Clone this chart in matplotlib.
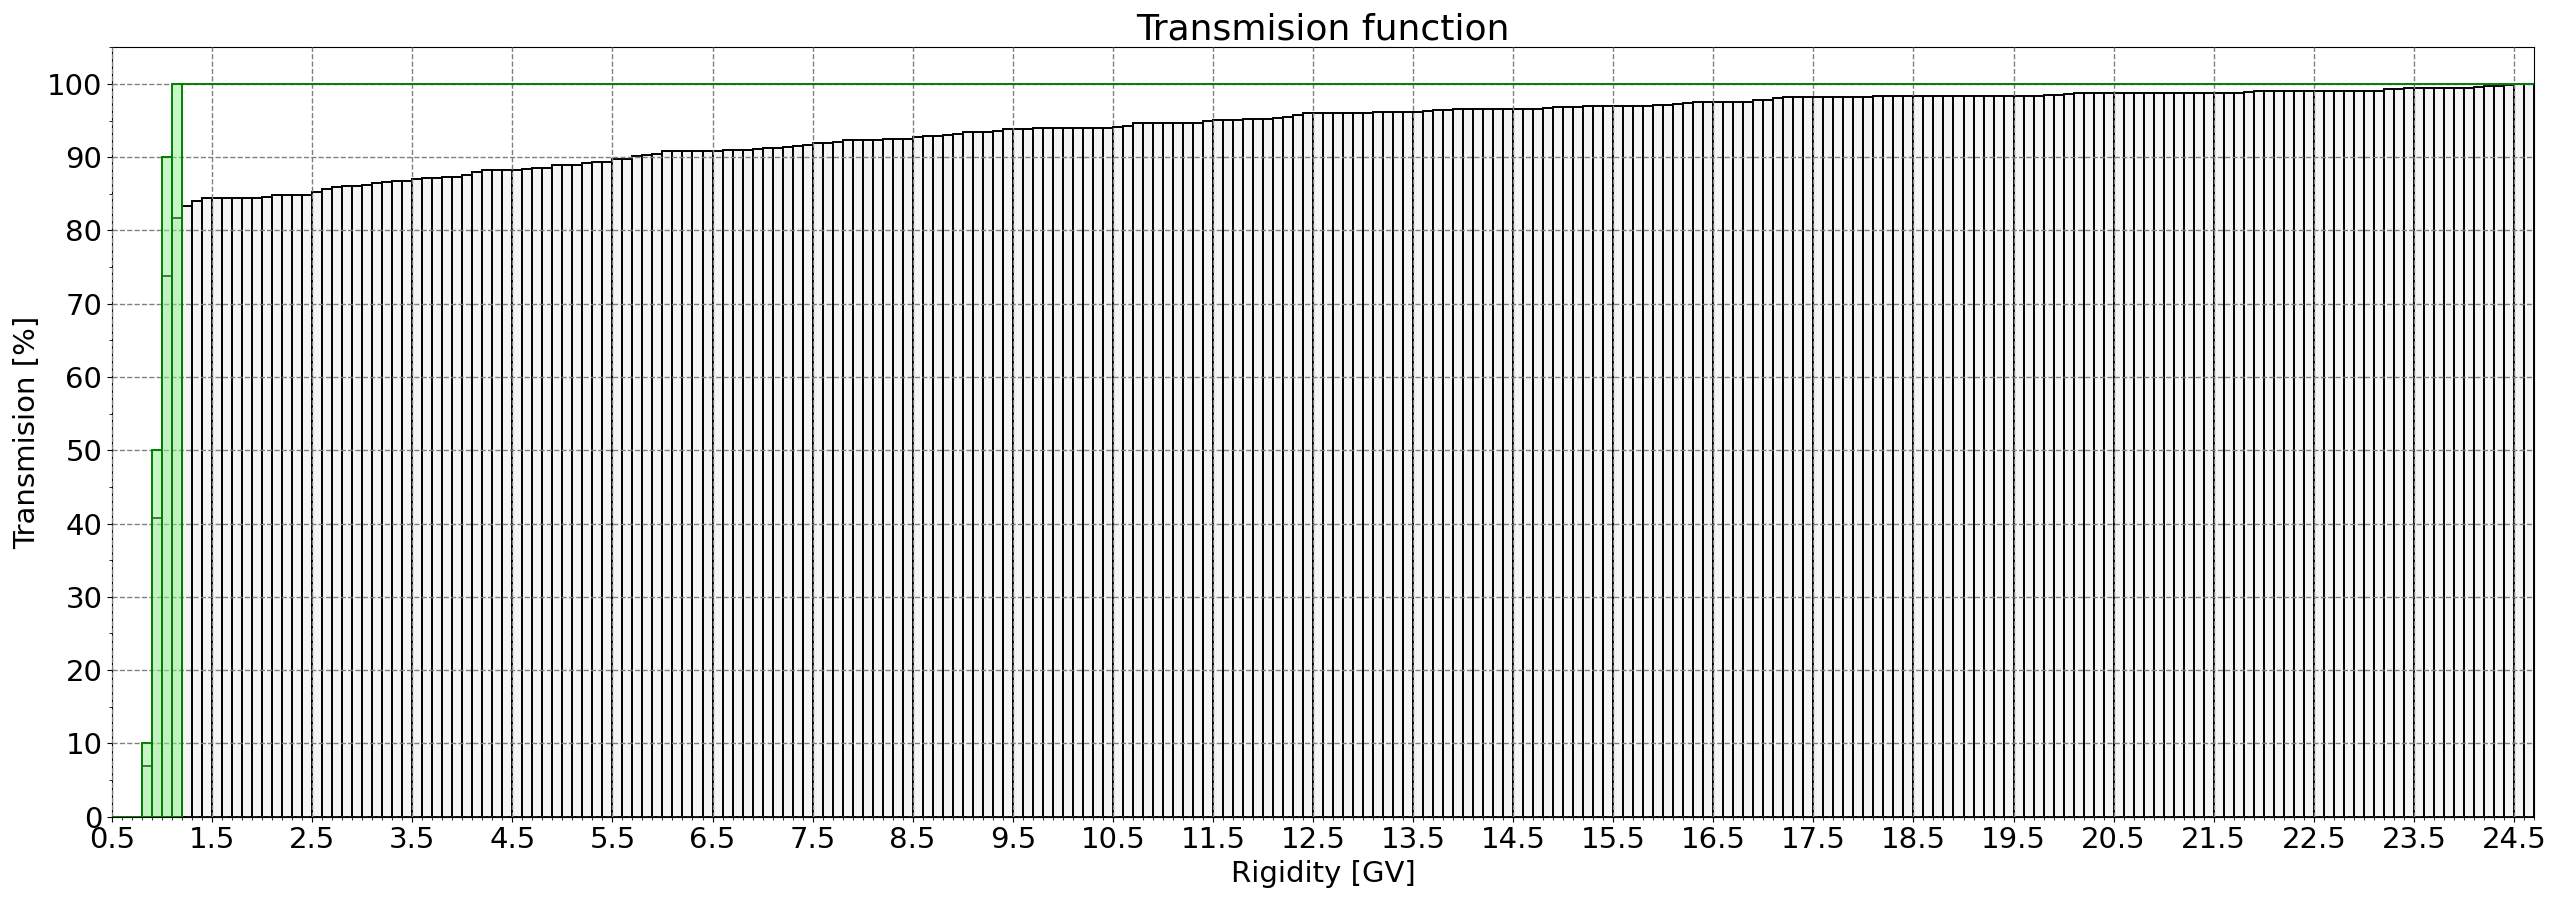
import numpy as np
import matplotlib
matplotlib.use('Agg')
import matplotlib.pyplot as plt
from matplotlib.ticker import MultipleLocator

# Anchura de cada bin de rigidez [GV]
ancho = 0.1

# Transmision "ideal" (verde): bins que suben desde 0.8 GV
rig_verde = [0.8, 0.9, 1.0, 1.1]
trans_verde = [10, 50, 90, 100]
# tramo plano a 0 antes y a 100 despues
rig_verde_ini = 0.5
rig_fin = 24.7

# Transmision medida (negro), bins desde 0.8 GV
rig_inicio = 0.8
trans = [
    6.9, 40.8, 73.8, 81.7,
    83.3, 84.05, 84.5, 84.5, 84.5, 84.5, 84.5, 84.5, 84.6, 84.8,
    84.9, 84.9, 84.9, 85.3, 85.6, 86.0, 86.1, 86.1, 86.2, 86.5,
    86.6, 86.8, 86.8, 87.0, 87.2, 87.2, 87.3, 87.3, 87.6, 88.0,
    88.2, 88.2, 88.3, 88.3, 88.4, 88.5, 88.5, 88.9, 89.0, 89.0,
    89.2, 89.3, 89.4, 89.8, 89.8, 90.1, 90.3, 90.45,
    90.8, 90.8, 90.8, 90.8, 90.8, 90.8,
    91.0, 91.0, 91.0, 91.1, 91.3, 91.3, 91.4, 91.5, 91.7, 91.9,
    91.9, 92.1, 92.3, 92.4, 92.4, 92.4, 92.5, 92.5, 92.5, 92.8,
    92.9, 92.9, 93.0, 93.2, 93.4, 93.4, 93.5, 93.6, 93.8, 93.9, 93.9,
    94.0, 94.0, 94.0, 94.0, 94.0, 94.0, 94.0, 94.0,
    94.1, 94.3,
    94.7, 94.7, 94.7, 94.7, 94.7, 94.7, 94.7,
    94.9, 95.1, 95.1, 95.1, 95.2, 95.2, 95.2, 95.4, 95.5, 95.7,
    96.0, 96.0, 96.0, 96.0, 96.0, 96.0,
    96.1, 96.2, 96.2, 96.2, 96.2, 96.2, 96.3, 96.4, 96.4,
    96.6, 96.6, 96.6, 96.6, 96.6, 96.6, 96.6, 96.6, 96.6,
    96.7, 96.9, 96.9, 96.9,
    97.0, 97.0, 97.0, 97.0, 97.0, 97.0, 97.0,
    97.15, 97.15, 97.3, 97.45,
    97.6, 97.6, 97.6, 97.6, 97.6, 97.6,
    97.8, 97.8, 98.1,
    98.25, 98.25, 98.25, 98.25, 98.25, 98.25, 98.25, 98.25, 98.25,
    98.4, 98.4, 98.4, 98.4, 98.4, 98.4, 98.4, 98.4, 98.4, 98.4,
    98.4, 98.4, 98.4, 98.4, 98.4, 98.4, 98.4,
    98.5, 98.5, 98.6,
    98.75, 98.75, 98.75, 98.75, 98.75, 98.75, 98.75, 98.75, 98.75, 98.75,
    98.75, 98.75, 98.75, 98.75, 98.75, 98.75, 98.75,
    98.9,
    99.0, 99.0, 99.0, 99.0, 99.0, 99.0, 99.0, 99.0, 99.0, 99.0,
    99.0, 99.0, 99.0,
    99.25, 99.25,
    99.4, 99.4, 99.4, 99.4, 99.4, 99.4, 99.4,
    99.6, 99.7, 99.7, 99.85, 100.0, 100.0,
]

rig = rig_inicio + ancho * np.arange(len(trans))

fig = plt.figure(figsize=(25.58, 9), dpi=100)
ax = fig.add_axes([0.0438, 0.0927, 0.9468, 0.8547])

# Barras medidas
ax.bar(rig, trans, width=ancho, align='edge', color='whitesmoke',
       edgecolor='black', linewidth=1.4, zorder=2)

# Barras ideales (verde, semitransparente)
ax.bar(rig_verde, trans_verde, width=ancho, align='edge',
       facecolor=(0.565, 0.933, 0.565, 0.5), edgecolor='green',
       linewidth=1.4, zorder=3)

# Contorno verde: 0 antes de la subida, 100 despues
ax.plot([rig_verde_ini, rig_verde[0]], [0, 0], color='green', lw=1.4, zorder=3)
ax.plot([rig_verde[-1] + ancho, rig_fin], [trans_verde[-1], trans_verde[-1]],
        color='green', lw=1.4, zorder=3)

ax.set_xlim(0.5, rig_fin)
ax.set_ylim(0, 105)
ax.set_xticks(np.arange(0.5, 24.6, 1.0))
ax.set_yticks(np.arange(0, 101, 10))
ax.xaxis.set_minor_locator(MultipleLocator(0.1))
ax.yaxis.set_minor_locator(MultipleLocator(5))
ax.tick_params(axis='both', which='major', labelsize=21)
ax.grid(True, which='major', color='gray', linestyle='--', linewidth=1, zorder=4)
ax.set_axisbelow(False)

ax.set_title('Transmision function', fontsize=26)
ax.set_xlabel('Rigidity [GV]', fontsize=21)
ax.set_ylabel('Transmision [%]', fontsize=21)

fig.savefig('out.png', dpi=100)
